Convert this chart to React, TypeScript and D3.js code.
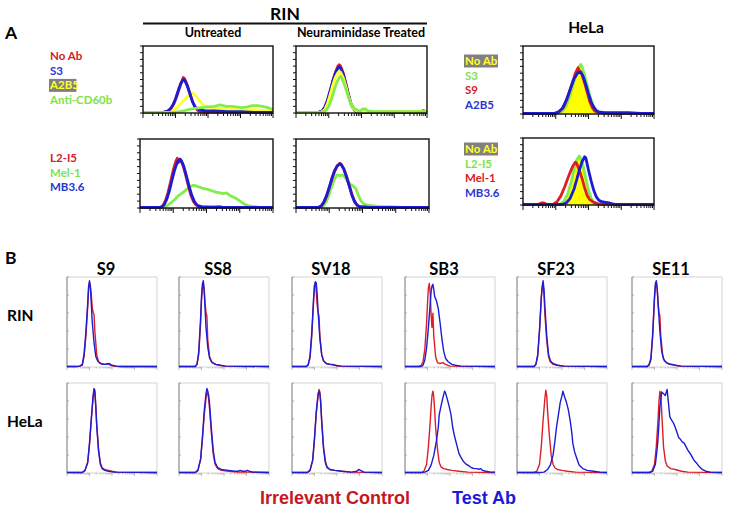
import React from "react";
import * as d3 from "d3";

type Pt = [number, number];

// ---------- Panel A : RIN, untreated (row 1) ----------
const aU1NoAb: Pt[] = [[0,1],[15,1],[18,2],[20,4],[22,8],[24,15],[26,25],[28,37],[30,48],[31,53],[32,51],[34,42],[36,30],[38,18],[40,9],[42,4],[44,2],[50,1],[100,1]];
const aU1S3: Pt[] = [[0,1],[16,1],[19,3],[21,6],[23,12],[25,21],[27,33],[29,44],[31,50],[32,49],[34,41],[36,29],[38,17],[40,9],[43,5],[48,3],[55,3],[65,2],[75,2],[85,1],[100,1]];
const aU1A2B5: Pt[] = [[0,1],[20,1],[23,3],[26,8],[29,14],[32,20],[35,26],[37,29],[38,30],[40,27],[42,22],[45,14],[48,10],[52,8],[58,7],[65,6],[75,5],[85,5],[92,4],[97,3],[100,2]];
const aU1CD60b: Pt[] = [[0,1],[25,1],[28,2],[31,3],[35,5],[40,7],[45,8],[50,9],[55,10],[59,12],[64,10],[68,10],[72,9],[76,8],[80,9],[84,11],[88,11],[92,10],[96,8],[100,5]];

// ---------- Panel A : RIN, neuraminidase (row 1) ----------
const aN1NoAb: Pt[] = [[0,1],[17,1],[20,3],[22,8],[24,18],[26,32],[28,47],[30,60],[32,70],[33,72],[34,70],[36,60],[38,45],[40,28],[42,14],[44,6],[46,2],[50,1],[95,1],[97,4],[99,2],[100,1]];
const aN1S3: Pt[] = [[0,1],[17,1],[20,3],[22,9],[24,19],[26,33],[28,47],[30,59],[32,67],[33,69],[34,67],[36,58],[38,43],[40,27],[42,13],[44,6],[46,2],[50,1],[100,1]];
const aN1A2B5: Pt[] = [[0,1],[19,1],[22,5],[24,14],[26,27],[28,41],[30,53],[32,60],[33,62],[34,61],[36,53],[38,40],[40,25],[42,13],[44,6],[46,3],[50,2],[70,2],[90,2],[96,3],[100,2]];
const aN1CD60b: Pt[] = [[0,1],[20,1],[23,4],[25,10],[27,20],[29,33],[31,45],[33,53],[34,55],[35,52],[37,42],[39,30],[41,18],[43,10],[45,6],[47,4],[49,3],[51,6],[53,6],[55,3],[60,2],[70,2],[80,2],[90,2],[100,2]];

// ---------- Panel A : RIN, untreated (row 2) ----------
const aU2L2I5: Pt[] = [[0,1],[15,1],[17,3],[19,10],[21,22],[23,38],[25,55],[27,68],[28,72],[29,66],[30,70],[32,64],[34,50],[36,35],[38,20],[40,10],[42,5],[44,2],[48,1],[60,2],[62,1],[70,1],[100,1]];
const aU2Mel1: Pt[] = [[0,1],[18,1],[20,3],[23,7],[26,12],[29,18],[32,22],[35,27],[38,31],[40,33],[42,32],[45,30],[48,28],[51,27],[54,25],[57,23],[60,22],[63,21],[65,22],[67,19],[70,16],[73,13],[76,9],[79,5],[82,3],[86,2],[90,1],[100,1]];
const aU2MB36: Pt[] = [[0,1],[16,1],[18,4],[20,12],[22,24],[24,40],[26,55],[28,66],[30,71],[31,69],[33,60],[35,46],[37,31],[39,18],[41,9],[43,4],[46,2],[55,1],[100,1]];

// ---------- Panel A : RIN, neuraminidase (row 2) ----------
const aN2L2I5: Pt[] = [[0,1],[17,1],[19,3],[21,8],[23,17],[25,29],[27,42],[29,53],[31,61],[33,65],[34,63],[36,57],[38,46],[40,33],[42,20],[44,10],[46,4],[48,2],[55,1],[100,1]];
const aN2Mel1: Pt[] = [[0,1],[19,1],[21,4],[23,10],[25,20],[27,32],[29,42],[31,48],[33,47],[35,48],[37,44],[39,38],[41,34],[43,32],[45,28],[47,18],[49,10],[51,6],[54,4],[58,3],[62,2],[70,2],[80,1],[100,1]];
const aN2MB36: Pt[] = [[0,1],[17,1],[19,3],[21,9],[23,18],[25,30],[27,43],[29,54],[31,61],[33,64],[34,63],[36,56],[38,45],[40,32],[42,19],[44,9],[46,4],[48,2],[55,1],[100,1]];

// ---------- Panel A : HeLa (row 1) ----------
const hH1NoAb: Pt[] = [[0,0],[26,0],[29,3],[32,10],[35,25],[38,45],[40,58],[42,68],[43,72],[44,70],[46,60],[48,45],[50,30],[52,18],[54,9],[56,4],[58,1],[60,0],[100,0]];
const hH1S3: Pt[] = [[0,1],[27,1],[30,4],[33,12],[36,28],[39,48],[41,61],[43,70],[44,73],[45,70],[47,57],[49,42],[51,27],[53,15],[55,7],[57,3],[60,1],[100,1]];
const hH1S9: Pt[] = [[0,1],[25,1],[28,4],[31,10],[34,24],[37,42],[40,60],[42,68],[43,64],[45,58],[47,46],[49,32],[51,18],[53,9],[55,4],[58,2],[65,1],[100,1]];
const hH1A2B5: Pt[] = [[0,1],[24,1],[27,3],[30,8],[33,20],[36,36],[39,52],[42,61],[44,62],[46,55],[48,43],[50,30],[52,18],[54,10],[56,5],[58,3],[62,2],[70,2],[80,2],[90,1],[100,1]];

// ---------- Panel A : HeLa (row 2) ----------
const hH2NoAb: Pt[] = [[0,0],[28,0],[31,4],[34,15],[37,35],[39,52],[41,66],[42,72],[43,70],[45,60],[47,42],[49,22],[51,9],[53,3],[55,1],[57,0],[100,0]];
const hH2L2I5: Pt[] = [[0,1],[28,1],[31,5],[34,16],[37,36],[39,54],[41,67],[43,73],[44,70],[46,58],[48,40],[50,22],[52,10],[54,4],[57,1],[100,1]];
const hH2Mel1: Pt[] = [[0,1],[12,1],[14,3],[16,3],[18,1],[23,1],[26,5],[29,14],[32,28],[35,44],[38,58],[40,64],[41,62],[43,52],[45,40],[47,26],[49,14],[51,8],[54,4],[57,2],[60,1],[100,1]];
const hH2MB36: Pt[] = [[0,1],[30,1],[33,3],[36,10],[39,24],[41,38],[43,52],[45,64],[47,72],[48,70],[50,52],[52,36],[54,22],[56,12],[58,7],[60,5],[63,4],[66,3],[70,1],[100,1]];

// ---------- Panel B ----------
const bColumns = ["S9", "SS8", "SV18", "SB3", "SF23", "SE11"];
const bRows = ["RIN", "HeLa"];

const bRinControl: Pt[][] = [
  [[0,0.5],[10,0.5],[14,1],[17,2],[19,12],[21,35],[23,68],[24,88],[25,96],[26,92],[27,82],[28,68],[29,62],[30,60],[31,40],[33,14],[35,6],[38,4],[42,3],[45,4],[48,2],[52,1],[60,0.5],[100,0.5]],
  [[0,0.5],[18,0.5],[20,3],[22,15],[24,50],[25,75],[26,90],[27,96],[28,88],[29,72],[30,62],[31,58],[32,30],[34,12],[36,6],[40,3],[45,2],[50,1],[100,0.5]],
  [[0,0.5],[16,0.5],[18,2],[20,10],[22,35],[24,75],[25,93],[26,96],[27,85],[28,70],[29,62],[30,58],[31,35],[33,14],[35,7],[38,4],[43,3],[46,3],[50,1],[100,0.5]],
  [[0,0.5],[15,0.5],[18,2],[20,6],[22,20],[24,50],[25,72],[26,90],[27,95],[28,84],[29,60],[30,45],[31,61],[32,35],[34,12],[36,5],[39,4],[42,5],[45,3],[50,1],[100,0.5]],
  [[0,0.5],[19,0.5],[21,3],[23,12],[25,40],[26,60],[27,80],[28,90],[29,94],[30,82],[31,60],[33,30],[35,12],[37,6],[40,3],[45,2],[52,1],[100,0.5]],
  [[0,0.5],[17,0.5],[19,2],[21,8],[23,35],[25,78],[26,92],[27,96],[28,88],[29,72],[30,62],[31,58],[32,35],[34,14],[36,7],[40,4],[45,3],[52,1],[100,0.5]],
];
const bRinTest: Pt[][] = [
  [[0,0.5],[10,0.5],[14,1],[17,3],[19,15],[21,40],[23,72],[24,92],[25,98],[26,90],[27,72],[28,52],[30,28],[32,12],[34,7],[37,4],[40,3],[44,3],[47,4],[50,2],[55,1],[60,0.5],[100,0.5]],
  [[0,0.5],[18,0.5],[20,3],[22,18],[24,55],[25,80],[26,94],[27,98],[28,86],[29,66],[30,45],[32,22],[34,10],[37,5],[41,3],[46,2],[52,1],[100,0.5]],
  [[0,0.5],[16,0.5],[18,3],[20,12],[22,40],[24,78],[25,92],[26,97],[27,95],[28,82],[29,62],[31,32],[33,14],[35,7],[38,4],[42,3],[48,2],[55,1],[100,0.5]],
  [[0,0.5],[18,0.5],[20,2],[22,8],[24,22],[26,45],[28,72],[29,86],[30,92],[31,94],[32,88],[33,80],[35,75],[37,66],[39,50],[41,32],[43,18],[45,10],[48,6],[52,3],[56,2],[62,1],[100,0.5]],
  [[0,0.5],[19,0.5],[21,3],[23,14],[25,42],[27,78],[28,92],[29,98],[30,88],[31,68],[33,36],[35,15],[37,7],[40,4],[45,2],[52,1],[100,0.5]],
  [[0,0.5],[17,0.5],[19,3],[21,10],[23,38],[25,80],[26,95],[27,98],[28,90],[29,72],[31,40],[33,18],[35,9],[38,5],[42,3],[48,2],[55,1],[100,0.5]],
];
const bHelaControl: Pt[][] = [
  [[0,0.5],[17,0.5],[20,3],[23,12],[25,32],[27,60],[29,85],[30,93],[31,90],[32,75],[33,55],[35,28],[37,12],[39,6],[42,4],[46,3],[50,2],[56,1],[100,0.5]],
  [[0,0.5],[18,0.5],[21,3],[24,15],[26,38],[28,65],[30,85],[31,92],[32,90],[33,84],[34,72],[36,45],[38,22],[40,10],[43,5],[47,3],[55,2],[65,1],[72,1],[78,1],[100,0.5]],
  [[0,0.5],[17,0.5],[20,3],[23,14],[25,38],[27,68],[29,88],[30,95],[31,92],[32,80],[33,60],[35,30],[37,14],[39,7],[42,4],[47,3],[55,2],[65,1],[100,0.5]],
  [[0,0.5],[18,0.5],[21,2],[24,10],[26,30],[28,58],[29,75],[30,88],[31,93],[32,86],[33,70],[34,52],[36,28],[38,12],[40,7],[43,5],[47,4],[52,3],[60,2],[70,1],[100,0.5]],
  [[0,0.5],[18,0.5],[22,2],[25,10],[27,30],[29,60],[31,85],[32,94],[33,88],[34,70],[36,42],[38,20],[40,10],[42,6],[45,4],[50,3],[56,2],[65,1],[100,0.5]],
  [[0,0.5],[18,0.5],[22,2],[25,10],[27,30],[29,62],[30,82],[31,93],[32,88],[33,70],[35,30],[37,14],[39,8],[43,5],[48,4],[55,2],[62,1],[100,0.5]],
];
const bHelaTest: Pt[][] = [
  [[0,0.5],[17,0.5],[20,3],[23,12],[25,34],[27,62],[29,88],[30,96],[31,94],[32,76],[33,55],[35,25],[37,10],[39,5],[42,3],[46,2],[52,1],[100,0.5]],
  [[0,0.5],[18,0.5],[21,3],[24,16],[26,40],[28,70],[30,90],[31,96],[32,93],[33,88],[34,78],[36,50],[38,26],[40,12],[43,6],[47,4],[55,3],[62,2],[66,2],[68,3],[70,2],[74,2],[76,3],[78,2],[82,1],[100,0.5]],
  [[0,0.5],[17,0.5],[20,3],[23,15],[25,40],[27,70],[29,90],[30,93],[31,90],[32,78],[33,58],[35,28],[37,12],[39,6],[42,4],[48,3],[56,2],[66,1],[72,2],[74,4],[76,3],[80,1],[100,0.5]],
  [[0,0.5],[18,0.5],[22,1],[26,3],[29,9],[32,20],[35,37],[37,52],[38,66],[40,76],[42,85],[44,93],[45,91],[47,84],[49,76],[51,67],[53,52],[55,42],[58,30],[60,22],[62,18],[65,13],[68,10],[71,8],[74,6],[77,5],[80,5],[82,4],[84,5],[86,3],[90,2],[95,1],[100,1]],
  [[0,0.5],[25,0.5],[30,1],[34,4],[37,9],[40,20],[42,35],[44,53],[46,66],[48,80],[50,88],[51,93],[53,86],[55,80],[57,72],[59,60],[61,45],[62,34],[64,24],[66,18],[69,9],[73,5],[78,3],[85,2],[92,1],[100,0.5]],
  [[0,0.5],[20,0.5],[23,2],[26,10],[28,28],[29,40],[31,75],[33,92],[35,90],[37,88],[39,95],[40,85],[42,64],[44,60],[46,57],[48,52],[50,46],[52,40],[54,38],[56,35],[58,34],[60,30],[62,26],[64,23],[66,20],[68,16],[70,13],[72,11],[75,7],[78,4],[82,2],[87,1],[100,0.5]],
];

// ---------- Legends ----------
const legendA1 = ["No Ab", "S3", "A2B5", "Anti-CD60b"];
const legendA2 = ["L2-I5", "Mel-1", "MB3.6"];
const legendH1 = ["No Ab", "S3", "S9", "A2B5"];
const legendH2 = ["No Ab", "L2-I5", "Mel-1", "MB3.6"];

// ---------- styles ----------
const RED = "#dc1f26";
const BLUE = "#1c1cd4";
const YELLOW = "#ffff2e";
const GREEN = "#82ee4c";
const LRED = "#d42027";
const LBLUE = "#2b36cf";
const LGREEN = "#7ee24c";
const FONT = "Lato, 'Open Sans', sans-serif";

type Series = { pts: Pt[]; color: string; fill?: boolean };

function HistA({ x, y, w, h, series }: { x: number; y: number; w: number; h: number; series: Series[] }) {
  const sx = d3.scaleLinear().domain([0, 100]).range([x, x + w]);
  const sy = d3.scaleLinear().domain([0, 100]).range([y + h, y]);
  const line = d3.line<Pt>().x((d) => sx(d[0])).y((d) => sy(d[1]));
  const area = d3.area<Pt>().x((d) => sx(d[0])).y0(sy(0)).y1((d) => sy(d[1]));
  const logS = d3.scaleLog().domain([1, 10000]).range([x, x + w]);
  const xt = logS.ticks();
  const yt = d3.range(0, 11).map((i) => y + (h * i) / 10);
  return (
    <g>
      <rect x={x} y={y} width={w} height={h} fill="white" />
      {series.filter((s) => s.fill).map((s, i) => (
        <path key={"f" + i} d={area(s.pts) || ""} fill={s.color} stroke="none" />
      ))}
      {series.map((s, i) => (
        <path key={i} d={line(s.pts) || ""} fill="none" stroke={s.fill ? "#f0e020" : s.color} strokeWidth={s.fill ? 1 : 2.8} strokeLinejoin="round" />
      ))}
      <rect x={x} y={y} width={w} height={h} fill="none" stroke="#111" strokeWidth={1.4} />
      {yt.map((t, i) => (
        <line key={"y" + i} x1={x - 3} x2={x} y1={t} y2={t} stroke="#111" strokeWidth={1} />
      ))}
      {xt.map((t, i) => {
        const major = Math.abs(Math.log10(t) - Math.round(Math.log10(t))) < 1e-9;
        return <line key={"x" + i} x1={logS(t)} x2={logS(t)} y1={y + h} y2={y + h + (major ? 5 : 3)} stroke="#111" strokeWidth={1} />;
      })}
    </g>
  );
}

function HistB({ x, y, w, h, control, test }: { x: number; y: number; w: number; h: number; control: Pt[]; test: Pt[] }) {
  const sx = d3.scaleLinear().domain([0, 100]).range([x, x + w]);
  const sy = d3.scaleLinear().domain([0, 100]).range([y + h, y + 2]);
  const line = d3.line<Pt>().x((d) => sx(d[0])).y((d) => sy(d[1]));
  const logS = d3.scaleLog().domain([1, 10000]).range([x, x + w]);
  const xt = logS.ticks();
  const yt = d3.range(0, 6).map((i) => y + (h * i) / 5);
  return (
    <g>
      <rect x={x} y={y} width={w} height={h} fill="none" stroke="#c8c8c8" strokeWidth={0.8} />
      <line x1={x} x2={x} y1={y} y2={y + h} stroke="#8a8a8a" strokeWidth={1} />
      {yt.map((t, i) => (
        <line key={"y" + i} x1={x} x2={x + 2} y1={t} y2={t} stroke="#999" strokeWidth={0.8} />
      ))}
      {xt.map((t, i) => {
        const major = Math.abs(Math.log10(t) - Math.round(Math.log10(t))) < 1e-9;
        return <line key={"x" + i} x1={logS(t)} x2={logS(t)} y1={y + h} y2={y + h + (major ? 3 : 1.5)} stroke="#aaa" strokeWidth={0.8} />;
      })}
      <path d={line(control) || ""} fill="none" stroke={RED} strokeWidth={1.4} strokeLinejoin="round" />
      <path d={line(test) || ""} fill="none" stroke={BLUE} strokeWidth={1.4} strokeLinejoin="round" />
    </g>
  );
}

function Legend({ x, y, labels, colors, boxed }: { x: number; y: number; labels: string[]; colors: string[]; boxed: number }) {
  return (
    <g fontFamily={FONT} fontWeight={700} fontSize={11.5}>
      {labels.map((l, i) => {
        const by = y + i * 14.7;
        return (
          <g key={i}>
            {i === boxed && <rect x={x - 1} y={by - 10.5} width={l.length * 6.6 + 1} height={13} fill="#808080" />}
            <text x={x} y={by} fill={colors[i]}>{l}</text>
          </g>
        );
      })}
    </g>
  );
}

export default function App() {
  const bX = [67, 179, 292, 405, 517, 632];
  const bY = [277, 383];
  const bW = 90;
  const bH = 90;
  return (
    <svg width={729} height={512} style={{ position: "absolute", left: 0, top: 0, background: "white" }}>
      <rect x={0} y={0} width={729} height={512} fill="white" />
      {/* Panel A titles */}
      <text x={5} y={39} fontFamily={FONT} fontWeight={700} fontSize={17.5}>A</text>
      <text x={285} y={20} textAnchor="middle" fontFamily={FONT} fontWeight={700} fontSize={17.5}>RIN</text>
      <line x1={143} x2={427} y1={23.5} y2={23.5} stroke="#111" strokeWidth={1.8} />
      <text x={213} y={37} textAnchor="middle" fontFamily={FONT} fontWeight={700} fontSize={12.5}>Untreated</text>
      <text x={361} y={37} textAnchor="middle" fontFamily={FONT} fontWeight={700} fontSize={12.5}>Neuraminidase Treated</text>
      <text x={586} y={33} textAnchor="middle" fontFamily={FONT} fontWeight={700} fontSize={15.5}>HeLa</text>

      <Legend x={50} y={60} labels={legendA1} colors={[LRED, LBLUE, YELLOW, LGREEN]} boxed={2} />
      <Legend x={50} y={162} labels={legendA2} colors={[LRED, LGREEN, LBLUE]} boxed={-1} />
      <Legend x={465} y={65} labels={legendH1} colors={[YELLOW, LGREEN, LRED, LBLUE]} boxed={0} />
      <Legend x={465} y={153} labels={legendH2} colors={[YELLOW, LGREEN, LRED, LBLUE]} boxed={0} />

      <HistA x={143} y={46} w={130} h={67} series={[
        { pts: aU1A2B5, color: YELLOW },
        { pts: aU1NoAb, color: RED },
        { pts: aU1S3, color: BLUE },
        { pts: aU1CD60b, color: GREEN },
      ]} />
      <HistA x={296} y={46} w={131} h={67} series={[
        { pts: aN1NoAb, color: RED },
        { pts: aN1S3, color: BLUE },
        { pts: aN1A2B5, color: YELLOW },
        { pts: aN1CD60b, color: GREEN },
      ]} />
      <HistA x={140} y={139} w={133} h={69} series={[
        { pts: aU2Mel1, color: GREEN },
        { pts: aU2L2I5, color: RED },
        { pts: aU2MB36, color: BLUE },
      ]} />
      <HistA x={296} y={139} w={133} h={69} series={[
        { pts: aN2Mel1, color: GREEN },
        { pts: aN2L2I5, color: RED },
        { pts: aN2MB36, color: BLUE },
      ]} />
      <HistA x={523} y={46} w={131} h={68} series={[
        { pts: hH1NoAb, color: "#ffff00", fill: true },
        { pts: hH1S3, color: GREEN },
        { pts: hH1S9, color: RED },
        { pts: hH1A2B5, color: BLUE },
      ]} />
      <HistA x={523} y={138} w={131} h={67} series={[
        { pts: hH2NoAb, color: "#ffff00", fill: true },
        { pts: hH2L2I5, color: GREEN },
        { pts: hH2Mel1, color: RED },
        { pts: hH2MB36, color: BLUE },
      ]} />

      {/* Panel B */}
      <text x={5} y={264} fontFamily={FONT} fontWeight={700} fontSize={17.5}>B</text>
      {bColumns.map((c, i) => (
        <text key={c} x={bX[i] + bW / 2 - 6} y={275} textAnchor="middle" fontFamily={FONT} fontWeight={700} fontSize={16.5}>{c}</text>
      ))}
      {bRows.map((r, j) => (
        <text key={r} x={7} y={bY[j] + 44} fontFamily={FONT} fontWeight={700} fontSize={15.5}>{r}</text>
      ))}
      {bColumns.map((c, i) => (
        <g key={"r" + c}>
          <HistB x={bX[i]} y={bY[0]} w={bW} h={bH} control={bRinControl[i]} test={bRinTest[i]} />
          <HistB x={bX[i]} y={bY[1]} w={bW} h={bH} control={bHelaControl[i]} test={bHelaTest[i]} />
        </g>
      ))}
      <text x={260} y={504} fontFamily="'Liberation Sans', Arial, sans-serif" fontWeight={700} fontSize={18} fill="#c8161d">Irrelevant Control</text>
      <text x={452} y={504} fontFamily="'Liberation Sans', Arial, sans-serif" fontWeight={700} fontSize={18} fill="#1b1bd6">Test Ab</text>
    </svg>
  );
}
